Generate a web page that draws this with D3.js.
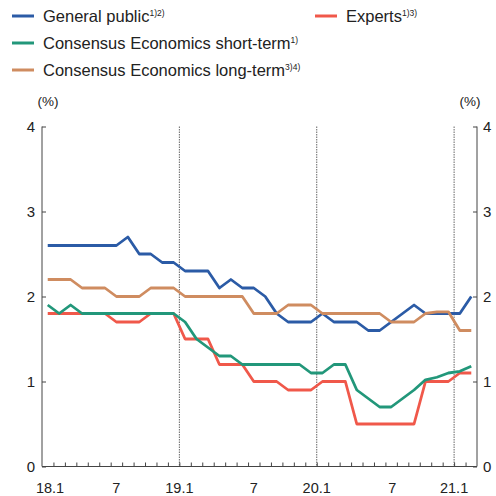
<!DOCTYPE html>
<html>
<head>
<meta charset="utf-8">
<script src="https://cdn.jsdelivr.net/npm/d3@7"></script>
<style>
  html, body { margin: 0; padding: 0; background: #fff; }
  svg { display: block; font-family: "Liberation Sans", Arial, sans-serif; }
</style>
</head>
<body>
<svg id="chart" width="496" height="496"></svg>
<script>
// ---- data (monthly, Jan 2018 .. Feb 2021) ----
const months = d3.timeMonths(new Date(2018, 0, 1), new Date(2021, 2, 1));
const generalPublic = [2.6,2.6,2.6,2.6,2.6,2.6,2.6,2.7,2.5,2.5,2.4,2.4,
                       2.3,2.3,2.3,2.1,2.2,2.1,2.1,2.0,1.8,1.7,1.7,1.7,
                       1.8,1.7,1.7,1.7,1.6,1.6,1.7,1.8,1.9,1.8,1.8,1.8,
                       1.8,2.0];
const experts = [1.8,1.8,1.8,1.8,1.8,1.8,1.7,1.7,1.7,1.8,1.8,1.8,
                 1.5,1.5,1.5,1.2,1.2,1.2,1.0,1.0,1.0,0.9,0.9,0.9,
                 1.0,1.0,1.0,0.5,0.5,0.5,0.5,0.5,0.5,1.0,1.0,1.0,
                 1.1,1.1];
const ceShort = [1.9,1.8,1.9,1.8,1.8,1.8,1.8,1.8,1.8,1.8,1.8,1.8,
                 1.7,1.5,1.4,1.3,1.3,1.2,1.2,1.2,1.2,1.2,1.2,1.1,
                 1.1,1.2,1.2,0.9,0.8,0.7,0.7,0.8,0.9,1.02,1.05,1.1,
                 1.12,1.18];
const ceLong = [2.2,2.2,2.2,2.1,2.1,2.1,2.0,2.0,2.0,2.1,2.1,2.1,
                2.0,2.0,2.0,2.0,2.0,2.0,1.8,1.8,1.8,1.9,1.9,1.9,
                1.8,1.8,1.8,1.8,1.8,1.8,1.7,1.7,1.7,1.8,1.82,1.82,
                1.6,1.6];
const yTicks = [0, 1, 2, 3, 4];
const xTickLabels = ["18.1", "7", "19.1", "7", "20.1", "7", "21.1"];
const xTickAt = [0.7, 6.5, 12, 18.5, 24, 30.6, 36];   // month index of each label
const yearStarts = [12, 24, 36];                         // dashed year separators

const series = [
  { name: "General public", sup: "1)2)", values: generalPublic, color: "#2b5ba6" },
  { name: "Consensus Economics long-term", sup: "3)4)", values: ceLong, color: "#cf8c60" },
  { name: "Experts", sup: "1)3)", values: experts, color: "#f0584a" },
  { name: "Consensus Economics short-term", sup: "1)", values: ceShort, color: "#22977a" }
];

// ---- layout ----
const svg = d3.select("#chart");
const mLeft = 42, mRight = 477, mTop = 126.5, mBottom = 466.5;
const x = d3.scaleLinear().domain([0, months.length]).range([mLeft, mRight]);
const y = d3.scaleLinear().domain([0, 4]).range([mBottom, mTop]);
const axisColor = "#444";

// dashed year separators
svg.append("g").selectAll("line").data(yearStarts).join("line")
  .attr("x1", d => x(d)).attr("x2", d => x(d))
  .attr("y1", mTop).attr("y2", mBottom)
  .attr("stroke", "#666").attr("stroke-width", 1)
  .attr("stroke-dasharray", "1.5,1");

// left axis
const gL = svg.append("g").attr("transform", `translate(${mLeft},0)`)
  .call(d3.axisRight(y).tickValues(yTicks).tickSize(4).tickFormat(""));
gL.select(".domain").attr("stroke", axisColor).attr("d", `M0,${mTop}V${mBottom}`);
gL.selectAll(".tick line").attr("stroke", axisColor);
svg.append("g").selectAll("text").data(yTicks).join("text")
  .attr("x", 35).attr("y", d => y(d)).attr("dy", "0.36em")
  .attr("text-anchor", "end").attr("font-size", 15).attr("fill", "#222")
  .text(d => d);

// right axis
const gR = svg.append("g").attr("transform", `translate(${mRight},0)`)
  .call(d3.axisLeft(y).tickValues(yTicks).tickSize(4).tickFormat(""));
gR.select(".domain").attr("stroke", axisColor).attr("d", `M0,${mTop}V${mBottom}`);
gR.selectAll(".tick line").attr("stroke", axisColor);
svg.append("g").selectAll("text").data(yTicks).join("text")
  .attr("x", 483).attr("y", d => y(d)).attr("dy", "0.36em")
  .attr("text-anchor", "start").attr("font-size", 15).attr("fill", "#222")
  .text(d => d);

// bottom axis (ticks at month boundaries, pointing up)
const gB = svg.append("g").attr("transform", `translate(0,${mBottom})`)
  .call(d3.axisTop(x).tickValues(d3.range(1, months.length)).tickSize(4).tickFormat(""));
gB.select(".domain").attr("stroke", axisColor).attr("d", `M${mLeft},0H${mRight}`);
gB.selectAll(".tick line").attr("stroke", axisColor);
svg.append("g").selectAll("text").data(xTickLabels).join("text")
  .attr("x", (d, i) => x(xTickAt[i])).attr("y", 493)
  .attr("text-anchor", "middle").attr("font-size", 14.5).attr("fill", "#222")
  .text(d => d);

// unit labels
svg.append("text").attr("x", 48).attr("y", 106).attr("text-anchor", "middle")
  .attr("font-size", 13.5).attr("fill", "#222").text("(%)");
svg.append("text").attr("x", 470).attr("y", 106).attr("text-anchor", "middle")
  .attr("font-size", 13.5).attr("fill", "#222").text("(%)");

// lines
const line = d3.line().x((d, i) => x(i + 0.5)).y(d => y(d));
svg.append("g").selectAll("path").data(series).join("path")
  .attr("d", d => line(d.values))
  .attr("fill", "none").attr("stroke", d => d.color)
  .attr("stroke-width", 2.8).attr("stroke-linejoin", "round");

// legend
const legendItems = [
  { s: series[0], lx: 12, ly: 16 },
  { s: series[2], lx: 315, ly: 16 },
  { s: series[3], lx: 12, ly: 43 },
  { s: series[1], lx: 12, ly: 70 }
];
const lg = svg.append("g").selectAll("g").data(legendItems).join("g")
  .attr("transform", d => `translate(${d.lx},${d.ly})`);
lg.append("line").attr("x1", 0).attr("x2", 22).attr("y1", 0).attr("y2", 0)
  .attr("stroke", d => d.s.color).attr("stroke-width", 3);
const lt = lg.append("text").attr("x", 31).attr("y", 6.3)
  .attr("font-size", 16.5).attr("fill", "#222");
lt.append("tspan").text(d => d.s.name);
lt.append("tspan").attr("font-size", 8.5).attr("dy", -6).text(d => d.s.sup);
</script>
</body>
</html>
